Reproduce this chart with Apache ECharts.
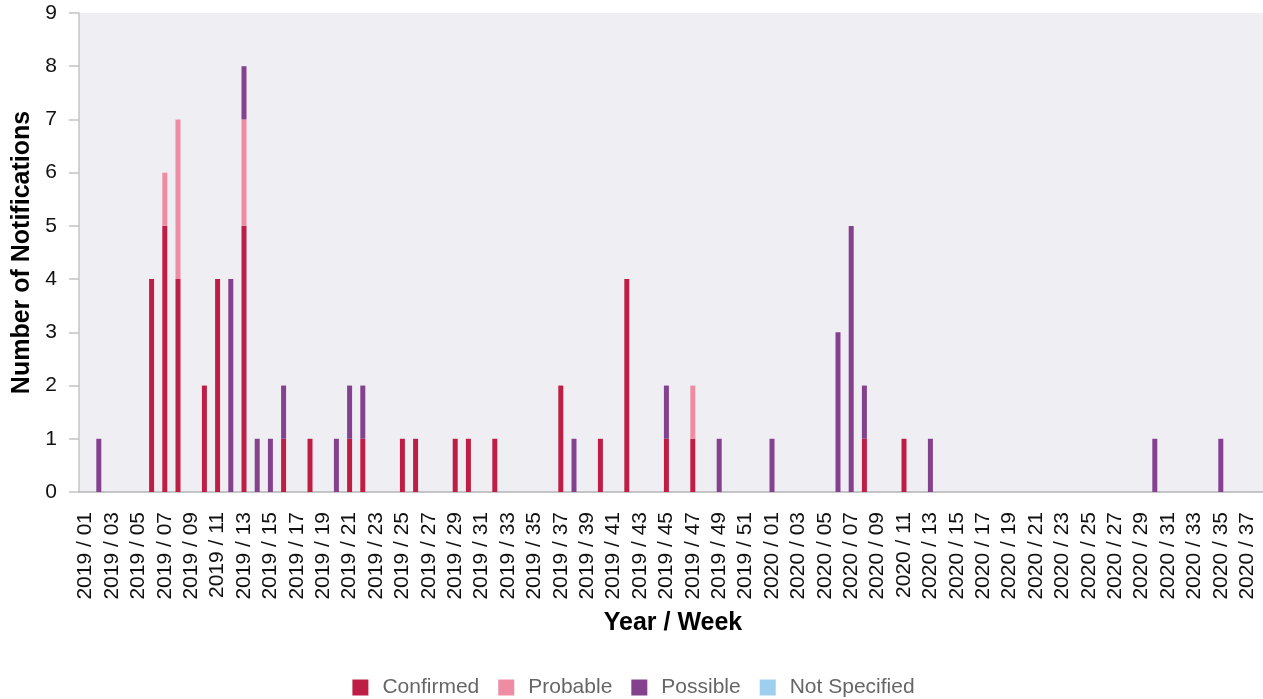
<!DOCTYPE html>
<html>
<head>
<meta charset="utf-8">
<script src="https://cdn.jsdelivr.net/npm/echarts@6/dist/echarts.min.js"></script>
<style>
  html, body { margin: 0; padding: 0; background: #fff; overflow: hidden; }
  #chart { width: 1267px; height: 699px; }
</style>
</head>
<body>
<div id="chart"></div>
<script>
// weeks shown on the axis: 2019 has 52 weeks, 2020 runs to week 38
const years = [2019, 2020];
const weeksInYear = [52, 38];

// weeks that have notifications, and counts per status
const activeWeeks = ['2019 / 02', '2019 / 06', '2019 / 07', '2019 / 08', '2019 / 10', '2019 / 11', '2019 / 12',
  '2019 / 13', '2019 / 14', '2019 / 15', '2019 / 16', '2019 / 18', '2019 / 20', '2019 / 21', '2019 / 22',
  '2019 / 25', '2019 / 26', '2019 / 29', '2019 / 30', '2019 / 32', '2019 / 37', '2019 / 38', '2019 / 40',
  '2019 / 42', '2019 / 45', '2019 / 47', '2019 / 49', '2020 / 01', '2020 / 06', '2020 / 07', '2020 / 08',
  '2020 / 11', '2020 / 13', '2020 / 30', '2020 / 35'];
const confirmed = [0, 4, 5, 4, 2, 4, 0, 5, 0, 0, 1, 1, 0, 1, 1, 1, 1, 1, 1, 1, 2, 0, 1, 4, 1, 1, 0, 0, 0, 0, 1, 1, 0, 0, 0];
const probable = [0, 0, 1, 3, 0, 0, 0, 2, 0, 0, 0, 0, 0, 0, 0, 0, 0, 0, 0, 0, 0, 0, 0, 0, 0, 1, 0, 0, 0, 0, 0, 0, 0, 0, 0];
const possible = [1, 0, 0, 0, 0, 0, 4, 1, 1, 1, 1, 0, 1, 1, 1, 0, 0, 0, 0, 0, 0, 1, 0, 0, 1, 0, 1, 1, 3, 5, 1, 0, 1, 1, 1];
const notSpecified = [0, 0, 0, 0, 0, 0, 0, 0, 0, 0, 0, 0, 0, 0, 0, 0, 0, 0, 0, 0, 0, 0, 0, 0, 0, 0, 0, 0, 0, 0, 0, 0, 0, 0, 0];

const categories = [];
years.forEach((y, k) => {
  for (let w = 1; w <= weeksInYear[k]; w++) {
    categories.push(y + ' / ' + String(w).padStart(2, '0'));
  }
});

function fill(values) {
  return categories.map(c => {
    const i = activeWeeks.indexOf(c);
    return i >= 0 && values[i] > 0 ? values[i] : null;
  });
}

const font = '"Liberation Sans", Arial, sans-serif';
const myChart = echarts.init(document.getElementById('chart'));

function bar(name, values, color) {
  return {
    name: name,
    type: 'bar',
    stack: 'total',
    barWidth: 5,
    data: fill(values),
    itemStyle: { color: color },
  };
}

myChart.setOption({
  animation: false,
  textStyle: { fontFamily: font },
  grid: {
    left: 79,
    right: 0,
    top: 13,
    bottom: 207,
    outerBoundsMode: 'none',
    containLabel: false,
    show: true,
    backgroundColor: '#efeef3',
    borderWidth: 0,
  },
  legend: {
    top: 672,
    left: 'center',
    itemWidth: 16,
    itemHeight: 16,
    itemGap: 19,
    icon: 'rect',
    textStyle: { fontSize: 21, color: '#666', fontFamily: font, padding: [0, 0, 0, 9] },
    data: ['Confirmed', 'Probable', 'Possible', 'Not Specified'],
  },
  xAxis: {
    type: 'category',
    data: categories,
    boundaryGap: true,
    name: 'Year / Week',
    nameLocation: 'middle',
    nameGap: 119,
    nameTextStyle: { fontSize: 25, fontWeight: 'bold', color: '#000', fontFamily: font },
    axisLine: { lineStyle: { color: '#b4b4b8', width: 1.5 } },
    axisTick: { interval: 1, alignWithLabel: true, length: 9, lineStyle: { color: '#c4c4c4', width: 1.5 } },
    axisLabel: { interval: 1, rotate: 90, margin: 20, fontSize: 21, color: '#111', fontFamily: font },
  },
  yAxis: {
    type: 'value',
    min: 0,
    max: 9,
    interval: 1,
    name: 'Number of Notifications',
    nameLocation: 'middle',
    nameGap: 44,
    nameTextStyle: { fontSize: 25, fontWeight: 'bold', color: '#000', fontFamily: font },
    splitLine: { show: false },
    axisLine: { show: true, lineStyle: { color: '#c4c4c4', width: 1.5 } },
    axisTick: { show: true, length: 10, lineStyle: { color: '#c4c4c4', width: 1.5 } },
    axisLabel: { margin: 22, fontSize: 21, color: '#111', fontFamily: font },
  },
  series: [
    bar('Confirmed', confirmed, '#be1e45'),
    bar('Probable', probable, '#ee8ca3'),
    bar('Possible', possible, '#84418e'),
    bar('Not Specified', notSpecified, '#9ecfee'),
  ],
});
</script>
</body>
</html>
